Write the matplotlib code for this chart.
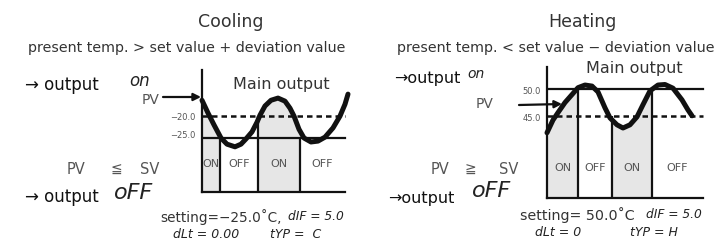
import numpy as np
import matplotlib.pyplot as plt

plt.rcParams['font.family'] = ['DejaVu Sans']

# cooling: process value (time in arbitrary units)
cool_t = [0.0, 0.6, 1.2, 1.9, 2.5, 3.3, 3.9, 4.4, 5.0, 5.5, 5.8, 6.3, 6.9,
          7.6, 8.3, 8.8, 9.2, 9.7, 10.2, 10.9, 11.6, 12.3, 13.1, 13.8, 14.3, 14.6]
cool_pv = [-16.4, -19.3, -22.0, -25.0, -26.4, -27.0, -26.4, -25.2, -23.6, -21.4,
           -19.8, -17.7, -16.4, -15.9, -16.6, -18.2, -20.0, -23.0, -25.0, -25.9,
           -25.7, -24.8, -22.7, -20.0, -17.3, -15.0]
cool_sv = -25.0
cool_dev = -20.0
cool_switch = [1.8, 5.6, 9.8]
cool_switch_top = [-25.0, -20.0, -25.0]
cool_end = 14.3

# heating
heat_t = [0.0, 0.6, 1.1, 1.8, 2.5, 3.1, 3.8, 4.5, 5.1, 5.8, 6.3, 7.0, 7.6,
          8.3, 9.0, 9.6, 10.3, 11.1, 11.8, 12.6, 13.5, 14.1, 14.5]
heat_pv = [41.8, 44.2, 45.6, 47.5, 49.0, 50.3, 50.8, 50.6, 49.5, 46.5, 44.6, 43.3,
           42.7, 43.3, 44.8, 47.1, 49.7, 50.8, 50.9, 50.2, 48.0, 46.1, 45.0]
heat_sv = 50.0
heat_dev = 45.0
heat_switch = [3.1, 6.5, 10.5]
heat_switch_top = [50.0, 45.0, 50.0]
heat_end = 15.6

state_labels = ['ON', 'OFF', 'ON', 'OFF']

W, H = 720, 241
fig = plt.figure(figsize=(7.2, 2.41), dpi=100)


def fx(x):
    return x / W


def fy(y):
    return 1 - y / H


def txt(x, y, s, size=10, color='#333333', ha='center', **kw):
    fig.text(fx(x), fy(y), s, fontsize=size, color=color, ha=ha, va='center', **kw)


def arrow(x0, y0, x1, y1):
    fig.add_artist(plt.Annotation('', xy=(fx(x1), fy(y1)), xytext=(fx(x0), fy(y0)),
                                  xycoords='figure fraction',
                                  arrowprops=dict(arrowstyle='-|>', lw=1.6, color='#111111',
                                                  mutation_scale=11, shrinkA=0, shrinkB=0)))


def panel(box, xlim, ylim, t, pv, sv, dev, switch, switch_top, end, on_first):
    left, right, top, bottom = box
    ax = fig.add_axes([fx(left), fy(bottom), fx(right - left), fy(top) - fy(bottom)])
    ax.set_xlim(*xlim)
    ax.set_ylim(*ylim)
    for s in ['top', 'right']:
        ax.spines[s].set_visible(False)
    for s in ['left', 'bottom']:
        ax.spines[s].set_linewidth(1.6)
        ax.spines[s].set_color('#111111')
    ax.spines['bottom'].set_bounds(0, end)
    ax.set_xticks([])
    ax.set_yticks([])
    ax.patch.set_alpha(0)

    edges = [0] + list(switch) + [end]
    t = np.asarray(t)
    pv = np.asarray(pv)
    for i in range(len(edges) - 1):
        a, b = edges[i], edges[i + 1]
        if (i % 2 == 0) == on_first:
            ts = np.concatenate([[a], t[(t > a) & (t < b)], [b]])
            ax.fill_between(ts, ylim[0], np.interp(ts, t, pv), color='#e6e6e6', lw=0)
        ax.text((a + b) / 2, ylim[0] + (ylim[1] - ylim[0]) * 0.23, state_labels[i],
                fontsize=8, color='#555555', ha='center', va='center')

    ax.vlines(switch, ylim[0], switch_top, color='#111111', lw=1.6)
    ax.plot([0, end], [sv, sv], color='#111111', lw=1.6)
    ax.plot([0, end], [dev, dev], color='#111111', lw=1.8, ls=(0, (2.2, 1.6)))
    ax.plot(t, pv, color='#111111', lw=3.6, solid_capstyle='round', clip_on=False)
    return ax


panel((202, 352, 70, 192), (0, 15), (-37.3, -9.5), cool_t, cool_pv, cool_sv, cool_dev,
      cool_switch, cool_switch_top, cool_end, True)
panel((547, 707, 67, 198), (0, 16), (29.5, 54.2), heat_t, heat_pv, heat_sv, heat_dev,
      heat_switch, heat_switch_top, heat_end, True)

seg = dict(style='italic', color='#222222')

# cooling texts
txt(231, 22, 'Cooling', size=12.5)
txt(187, 48, 'present temp. > set value + deviation value', size=10.3)
txt(25, 85, '→ output', size=12, color='#111111', ha='left')
txt(129, 81, 'on', size=12, ha='left', **seg)
txt(151, 100, 'PV', size=10, color='#555555')
arrow(163, 97, 201, 97)
txt(196, 117, '−20.0', size=6, color='#555555', ha='right')
txt(196, 136, '−25.0', size=6, color='#555555', ha='right')
txt(281, 84, 'Main output', size=11.5)
txt(76, 170, 'PV', size=10.5, color='#555555')
txt(116, 170, '≦', size=10, color='#555555')
txt(150, 170, 'SV', size=10.5, color='#555555')
txt(25, 197, '→ output', size=12, color='#111111', ha='left')
txt(114, 193, 'oFF', size=16, ha='left', **seg)
txt(160, 217, 'setting=−25.0˚C,', size=9.8, ha='left')
txt(288, 217, 'dIF = 5.0', size=8.8, ha='left', **seg)
txt(173, 235, 'dLt = 0.00', size=9, ha='left', **seg)
txt(270, 235, 'tYP =  C', size=9, ha='left', **seg)

# heating texts
txt(582, 22, 'Heating', size=12.5)
txt(556, 48, 'present temp. < set value − deviation value', size=10.3)
txt(394, 78, '→output', size=11.5, color='#111111', ha='left')
txt(467, 74, 'on', size=10, ha='left', **seg)
txt(485, 104, 'PV', size=10, color='#555555')
arrow(519, 105, 562, 104)
txt(541, 91, '50.0', size=6, color='#555555', ha='right')
txt(541, 118, '45.0', size=6, color='#555555', ha='right')
txt(634, 68, 'Main output', size=11.5)
txt(440, 170, 'PV', size=10.5, color='#555555')
txt(470, 170, '≧', size=10, color='#555555')
txt(509, 170, 'SV', size=10.5, color='#555555')
txt(388, 198, '→output', size=11.5, color='#111111', ha='left')
txt(472, 191, 'oFF', size=16, ha='left', **seg)
txt(520, 215, 'setting= 50.0˚C', size=10.3, ha='left')
txt(646, 215, 'dIF = 5.0', size=8.8, ha='left', **seg)
txt(535, 232, 'dLt = 0', size=9, ha='left', **seg)
txt(630, 232, 'tYP = H', size=9, ha='left', **seg)

fig.savefig('out.png', dpi=100)
